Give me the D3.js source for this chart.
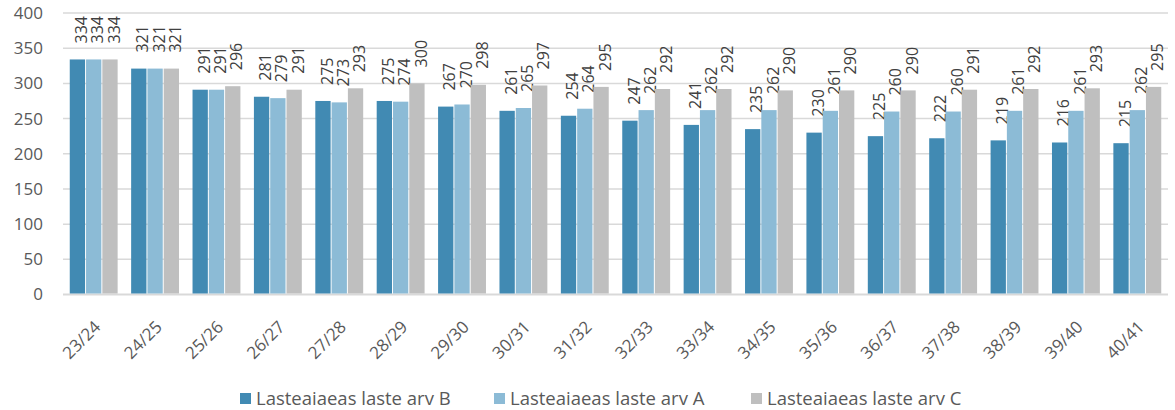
<!DOCTYPE html>
<html>
<head>
<meta charset="utf-8">
<script src="https://cdn.jsdelivr.net/npm/d3@7"></script>
<style>
  body { margin: 0; background: #fff; }
  svg { font-family: "Open Sans", Lato, sans-serif; }
</style>
</head>
<body>
<svg width="1175" height="410"></svg>
<script>
var categories = ["23/24","24/25","25/26","26/27","27/28","28/29","29/30","30/31","31/32","32/33","33/34","34/35","35/36","36/37","37/38","38/39","39/40","40/41"];
var seriesB = [334,321,291,281,275,275,267,261,254,247,241,235,230,225,222,219,216,215];
var seriesA = [334,321,291,279,273,274,270,265,264,262,262,262,261,260,260,261,261,262];
var seriesC = [334,321,296,291,293,300,298,297,295,292,292,290,290,290,291,292,293,295];
var seriesNames = ["Lasteaiaeas laste arv B","Lasteaiaeas laste arv A","Lasteaiaeas laste arv C"];
var yTicks = [0,50,100,150,200,250,300,350,400];

var series = [
  { name: seriesNames[0], values: seriesB, color: "#418ab3" },
  { name: seriesNames[1], values: seriesA, color: "#8cbbd6" },
  { name: seriesNames[2], values: seriesC, color: "#bfbfbf" }
];

var svg = d3.select("svg");
var plotLeft = 63, plotRight = 1168, plotTop = 13, plotBottom = 294.5;

var x = d3.scaleBand().domain(categories).range([plotLeft, plotRight]).paddingInner(0.22).paddingOuter(0.11);
var xs = d3.scaleBand().domain([0,1,2]).range([0, x.bandwidth()]).paddingInner(0.06);
var y = d3.scaleLinear().domain([0, 400]).range([plotBottom, plotTop]);

// gridlines
svg.append("g").selectAll("line")
  .data(yTicks)
  .enter().append("line")
  .attr("x1", plotLeft).attr("x2", plotRight)
  .attr("y1", function(d) { return y(d); })
  .attr("y2", function(d) { return y(d); })
  .attr("stroke", "#d9d9d9")
  .attr("stroke-width", function(d) { return d === 0 ? 2.2 : 1.5; });

// y labels
svg.append("g").selectAll("text")
  .data(yTicks)
  .enter().append("text")
  .attr("x", 43).attr("y", function(d) { return y(d); })
  .attr("dy", "0.35em")
  .attr("text-anchor", "end")
  .attr("fill", "#595959")
  .attr("font-size", 17)
  .text(function(d) { return d; });

// bars
var groups = svg.append("g").selectAll("g")
  .data(categories)
  .enter().append("g")
  .attr("transform", function(d) { return "translate(" + x(d) + ",0)"; });

series.forEach(function(s, si) {
  groups.append("rect")
    .attr("x", xs(si))
    .attr("width", xs.bandwidth())
    .attr("y", function(d, i) { return y(s.values[i]); })
    .attr("height", function(d, i) { return plotBottom - 1 - y(s.values[i]); })
    .attr("fill", s.color);
  groups.append("text")
    .attr("transform", function(d, i) {
      return "translate(" + (xs(si) + xs.bandwidth() / 2) + "," + (y(s.values[i]) - 16) + ") rotate(-90)";
    })
    .attr("dy", "0.6em")
    .attr("fill", "#404040")
    .attr("font-size", 16)
    .text(function(d, i) { return s.values[i]; });
});

// x labels
svg.append("g").selectAll("text")
  .data(categories)
  .enter().append("text")
  .attr("transform", function(d) {
    return "translate(" + (x(d) + x.bandwidth() / 2 + 8) + ",328) rotate(-45)";
  })
  .attr("text-anchor", "end")
  .attr("fill", "#595959")
  .attr("font-size", 17)
  .text(function(d) { return d; });

// legend
var legendX = [240, 494, 751];
var legend = svg.append("g").selectAll("g")
  .data(series)
  .enter().append("g")
  .attr("transform", function(d, i) { return "translate(" + legendX[i] + ",393)"; });
legend.append("rect").attr("width", 11).attr("height", 11).attr("fill", function(d) { return d.color; });
legend.append("text")
  .attr("x", 16).attr("y", 6)
  .attr("dy", "0.35em")
  .attr("fill", "#595959")
  .attr("font-size", 18.5)
  .text(function(d) { return d.name; });
</script>
</body>
</html>
